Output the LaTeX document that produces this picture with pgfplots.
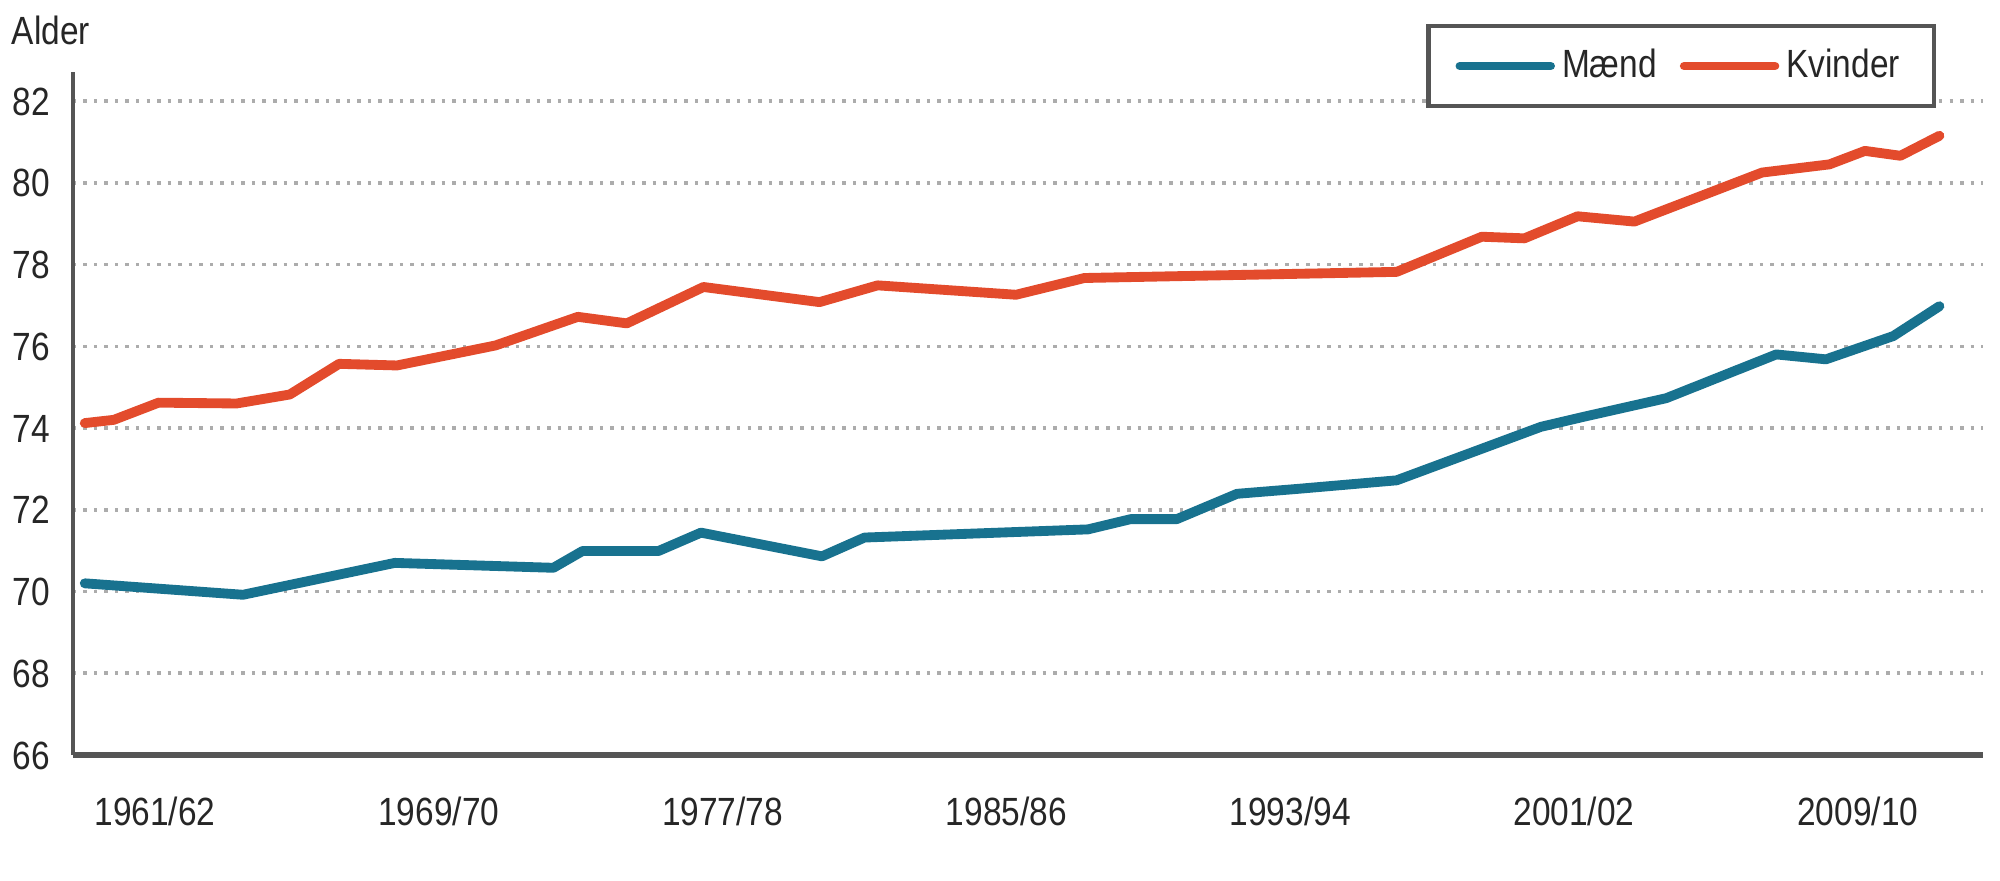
\documentclass[border=0pt]{standalone}
\usepackage{fontspec}
\setmainfont{Liberation Sans}[FakeStretch=0.85]
\usepackage{pgfplots}
\pgfplotsset{compat=1.18}
\definecolor{maend}{RGB}{24,114,143}
\definecolor{kvinder}{RGB}{227,75,44}
\definecolor{axisgray}{RGB}{85,85,85}

\begin{document}
\fontsize{11.2}{13}\selectfont
\begin{tikzpicture}
\useasboundingbox (0,0) rectangle (20,8.8);
\begin{axis}[
  at={(0.727cm,1.25cm)}, anchor=south west,
  scale only axis, width=19.10cm, height=6.83cm,
  xmin=1958.68, xmax=2012.52, ymin=66, ymax=82.71,
  axis x line=bottom, axis y line=left,
  x axis line style={-, line width=1.6pt, color=axisgray},
  y axis line style={-, line width=1.2pt, color=axisgray},
  xtick={1961,1969,1977,1985,1993,2001,2009},
  xticklabels={1961/62,1969/70,1977/78,1985/86,1993/94,2001/02,2009/10},
  ytick={66,68,...,82},
  major tick length=0pt,
  ymajorgrids,
  grid style={color=gray!65, line width=1pt, dash pattern=on 1pt off 2pt},
  /pgf/number format/assume math mode=true,
  tick label style={font=\fontsize{11.2}{13}\selectfont, text=black!85},
  xticklabel style={anchor=base, inner sep=0pt, yshift=-0.70cm},
  yticklabel style={anchor=base east, inner sep=0pt, xshift=-0.22cm, yshift=-0.14cm},
  legend columns=2,
  legend style={at={(0.9755,1.07)}, anchor=north east, draw=axisgray,
    line width=1.2pt, fill=white, inner xsep=0.27cm, inner ysep=0.155cm,
    font=\fontsize{11.2}{13}\selectfont, text=black!85,
    /tikz/every even column/.append style={column sep=0.16cm}},
  legend image code/.code={\draw[#1, line width=2.4pt] (0cm,0cm) -- (0.91cm,0cm);},
  every axis plot/.append style={line width=2.8pt, line join=round, line cap=round},
]
\addplot[color=maend] coordinates {
  (1959.02,70.20) (1963.48,69.92) (1967.76,70.70) (1972.23,70.58)
  (1973.05,70.99) (1975.19,70.99) (1976.39,71.44) (1979.80,70.86)
  (1981.00,71.32) (1987.30,71.52) (1988.50,71.77) (1989.80,71.77)
  (1991.50,72.39) (1993.20,72.51) (1996.00,72.72) (2000.07,74.03)
  (2001.30,74.28) (2003.60,74.73) (2006.70,75.80) (2008.10,75.68)
  (2010.00,76.25) (2011.30,76.98)
};
\addplot[color=kvinder] coordinates {
  (1959.02,74.12) (1959.84,74.20) (1961.10,74.62) (1963.30,74.60)
  (1964.80,74.82) (1966.19,75.57) (1967.82,75.53) (1970.60,76.02)
  (1972.92,76.72) (1974.30,76.56) (1976.46,77.45) (1979.73,77.08)
  (1981.37,77.49) (1985.27,77.26) (1987.20,77.67) (1996.00,77.82)
  (1998.40,78.68) (1999.60,78.64) (2001.10,79.18) (2002.70,79.05)
  (2006.30,80.25) (2008.20,80.45) (2009.20,80.78) (2010.20,80.66)
  (2011.30,81.15)
};
\legend{Mænd,Kvinder}
\end{axis}
\node[anchor=base west, inner sep=0pt, text=black!85] at (0.11,8.35) {Alder};
\end{tikzpicture}
\end{document}
